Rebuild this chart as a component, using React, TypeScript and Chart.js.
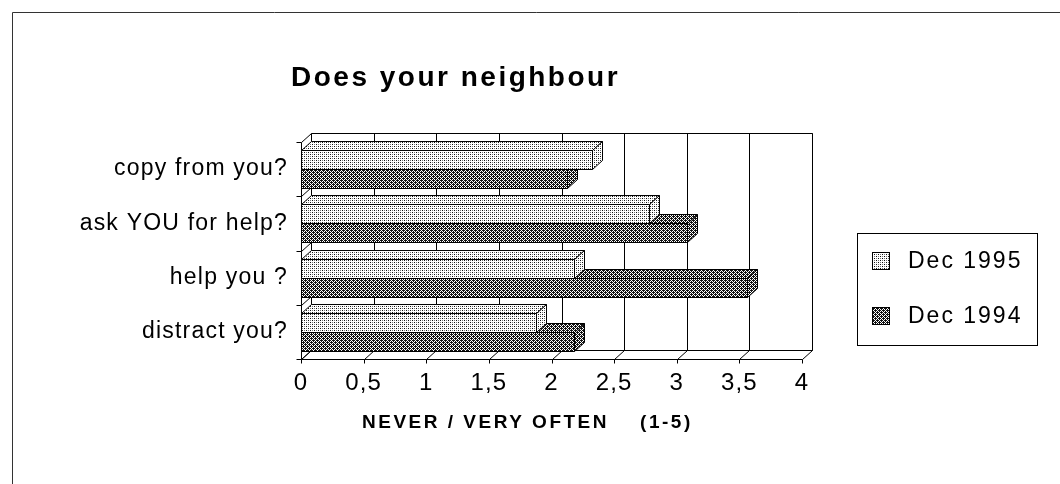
import React, { useEffect, useRef } from "react";
import { Chart, registerables } from "chart.js";

Chart.register(...registerables);

const categories = ["copy from you?", "ask YOU for help?", "help you ?", "distract you?"];
const seriesLabels = ["Dec 1995", "Dec 1994"];
const dec1995 = [2.32, 2.78, 2.18, 1.88];
const dec1994 = [2.12, 3.08, 3.56, 2.18];
const xTickLabels = ["0", "0,5", "1", "1,5", "2", "2,5", "3", "3,5", "4"];
const titleText = "Does your neighbour";
const xAxisTitle = "NEVER / VERY OFTEN    (1-5)";

const FONT = "'Liberation Sans', Arial, Helvetica, sans-serif";
const DX = 10;
const DY = 9;

function makePattern(kind: "light" | "dark"): CanvasPattern | string {
  const tile = document.createElement("canvas");
  tile.width = 4;
  tile.height = 4;
  const t = tile.getContext("2d");
  if (!t) return kind === "light" ? "#ccc" : "#777";
  t.fillStyle = "#fff";
  t.fillRect(0, 0, 4, 4);
  t.fillStyle = "#111";
  if (kind === "light") {
    t.fillRect(0, 0, 1, 1);
    t.fillRect(2, 2, 1, 1);
    t.fillStyle = "#777";
    t.fillRect(2, 0, 1, 1);
    t.fillRect(0, 2, 1, 1);
  } else {
    for (let y = 0; y < 4; y++) {
      for (let x = 0; x < 4; x++) {
        if ((x + y) % 2 === 0) t.fillRect(x, y, 1, 1);
      }
    }
    t.fillRect(1, 0, 1, 1);
    t.fillRect(3, 2, 1, 1);
  }
  const ctx = document.createElement("canvas").getContext("2d");
  const p = ctx ? ctx.createPattern(tile, "repeat") : null;
  return p || (kind === "light" ? "#ccc" : "#777");
}

const threeDPlugin = {
  id: "threeD",
  beforeDraw(chart: any) {
    chart.ctx.letterSpacing = "1.2px";
  },
  beforeDatasetsDraw(chart: any) {
    const ctx = chart.ctx as CanvasRenderingContext2D;
    const { left, right, top, bottom } = chart.chartArea;
    const xs = chart.scales.x;
    const n = categories.length;
    const band = (bottom - top) / n;
    ctx.save();
    ctx.strokeStyle = "#000";
    ctx.lineWidth = 1;
    const line = (x1: number, y1: number, x2: number, y2: number) => {
      ctx.beginPath();
      ctx.moveTo(x1, y1);
      ctx.lineTo(x2, y2);
      ctx.stroke();
    };
    const L = Math.round(left) + 0.5;
    const R = Math.round(right) + 0.5;
    const T = Math.round(top) + 0.5;
    const B = Math.round(bottom) + 0.5;
    line(L + DX, T - DY, R + DX, T - DY);
    for (let i = 0; i < xTickLabels.length; i++) {
      const x = Math.round(xs.getPixelForValue(i * 0.5)) + 0.5;
      line(x + DX, T - DY, x + DX, B - DY);
      line(x, B, x + DX, B - DY);
      line(x, B, x, B + 4);
    }
    line(L, B, R, B);
    line(L + DX, B - DY, R + DX, B - DY);
    line(L, T, L, B);
    for (let i = 0; i <= n; i++) {
      const y = Math.round(top + i * band) + 0.5;
      line(L, y, L + DX, y - DY);
      line(L - 5, y, L, y);
    }
    ctx.restore();
  },
  afterDatasetsDraw(chart: any) {
    const ctx = chart.ctx as CanvasRenderingContext2D;
    const metas = chart.data.datasets.map((_: any, i: number) => chart.getDatasetMeta(i));
    ctx.save();
    ctx.strokeStyle = "#000";
    ctx.lineWidth = 1;
    const order: [number, number][] = [];
    for (let c = categories.length - 1; c >= 0; c--) {
      for (let d = metas.length - 1; d >= 0; d--) order.push([c, d]);
    }
    for (const [c, d] of order) {
      const el = metas[d].data[c];
      if (!el) continue;
      const fill = chart.data.datasets[d].backgroundColor;
      const x0 = Math.round(el.base) + 0.5;
      const x1 = Math.round(el.x) + 0.5;
      const y0 = Math.round(el.y - el.height / 2) + 0.5;
      const y1 = Math.round(el.y + el.height / 2) + 0.5;
      ctx.fillStyle = fill;
      ctx.beginPath();
      ctx.moveTo(x0, y0);
      ctx.lineTo(x1, y0);
      ctx.lineTo(x1 + DX, y0 - DY);
      ctx.lineTo(x0 + DX, y0 - DY);
      ctx.closePath();
      ctx.fill();
      ctx.stroke();
      ctx.beginPath();
      ctx.moveTo(x1, y0);
      ctx.lineTo(x1 + DX, y0 - DY);
      ctx.lineTo(x1 + DX, y1 - DY);
      ctx.lineTo(x1, y1);
      ctx.closePath();
      ctx.fill();
      ctx.stroke();
      ctx.beginPath();
      ctx.rect(x0, y0, x1 - x0, y1 - y0);
      ctx.fill();
      ctx.stroke();
    }
    const { right, top, bottom } = chart.chartArea;
    const R = Math.round(right) + 0.5;
    const T = Math.round(top) + 0.5;
    const B = Math.round(bottom) + 0.5;
    ctx.beginPath();
    ctx.moveTo(R + DX, T - DY);
    ctx.lineTo(R + DX, B - DY);
    ctx.stroke();
    ctx.restore();
  },
  afterDraw(chart: any) {
    const ctx = chart.ctx as CanvasRenderingContext2D;
    ctx.save();
    ctx.strokeStyle = "#333";
    ctx.lineWidth = 1;
    ctx.beginPath();
    ctx.moveTo(12.5, 484);
    ctx.lineTo(12.5, 12.5);
    ctx.lineTo(1060, 12.5);
    ctx.stroke();
    ctx.fillStyle = "#000";
    ctx.textAlign = "left";
    ctx.textBaseline = "alphabetic";
    (ctx as any).letterSpacing = "2.5px";
    ctx.font = `bold 28px ${FONT}`;
    ctx.fillText(titleText, 291, 86);
    (ctx as any).letterSpacing = "2.5px";
    ctx.font = `bold 19px ${FONT}`;
    ctx.fillText(xAxisTitle, 362, 428);
    const bx = 857.5, by = 233.5, bw = 180, bh = 112;
    ctx.strokeStyle = "#000";
    ctx.strokeRect(bx, by, bw, bh);
    (ctx as any).letterSpacing = "2px";
    ctx.font = `23px ${FONT}`;
    ctx.textBaseline = "middle";
    chart.data.datasets.forEach((ds: any, i: number) => {
      const cy = 261 + i * 55;
      ctx.fillStyle = ds.backgroundColor;
      ctx.fillRect(872.5, cy - 8.5, 17, 17);
      ctx.strokeRect(872.5, cy - 8.5, 17, 17);
      ctx.fillStyle = "#000";
      ctx.fillText(ds.label, 908, cy + 1);
    });
    ctx.restore();
  },
};

export default function App() {
  const ref = useRef<HTMLCanvasElement | null>(null);
  useEffect(() => {
    document.body.style.margin = "0";
    document.body.style.background = "#fff";
    if (!ref.current) return;
    const light = makePattern("light");
    const dark = makePattern("dark");
    const chart = new Chart(ref.current, {
      type: "bar",
      data: {
        labels: categories,
        datasets: [
          {
            label: seriesLabels[0],
            data: dec1995,
            backgroundColor: light as any,
            borderColor: "#000",
            borderWidth: 1,
            categoryPercentage: 0.7,
            barPercentage: 1,
          },
          {
            label: seriesLabels[1],
            data: dec1994,
            backgroundColor: dark as any,
            borderColor: "#000",
            borderWidth: 1,
            categoryPercentage: 0.7,
            barPercentage: 1,
          },
        ],
      },
      options: {
        indexAxis: "y",
        animation: false,
        responsive: false,
        devicePixelRatio: 1,
        layout: { padding: { top: 142, right: 258, bottom: 0, left: 0 } },
        plugins: {
          legend: { display: false },
          title: { display: false },
          tooltip: { enabled: false },
        },
        scales: {
          x: {
            type: "linear",
            min: 0,
            max: 4,
            grid: { display: false, drawTicks: false },
            border: { display: false },
            ticks: {
              stepSize: 0.5,
              autoSkip: false,
              maxRotation: 0,
              padding: 10,
              color: "#000",
              font: { size: 24, family: FONT },
              callback: (_v: any, i: number) => xTickLabels[i],
            },
            afterFit: (s: any) => {
              s.height = 125;
            },
          },
          y: {
            type: "category",
            grid: { display: false, drawTicks: false },
            border: { display: false },
            ticks: {
              padding: 13,
              color: "#000",
              font: { size: 23, family: FONT },
            },
            afterFit: (s: any) => {
              s.width = 301;
            },
          },
        },
      },
      plugins: [threeDPlugin],
    } as any);
    return () => chart.destroy();
  }, []);
  return (
    <div style={{ width: 1060, height: 484, background: "#fff" }}>
      <canvas ref={ref} width={1060} height={484} style={{ display: "block", width: 1060, height: 484 }} />
    </div>
  );
}
